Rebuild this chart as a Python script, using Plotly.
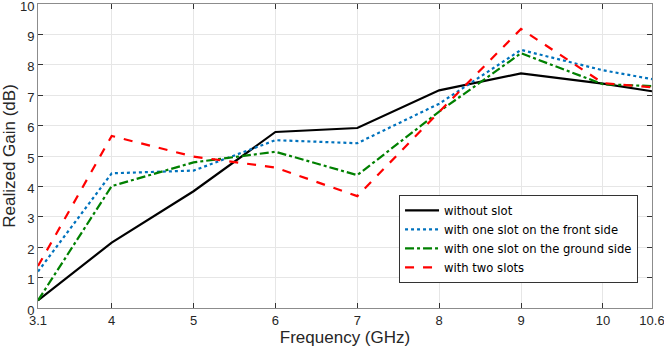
import plotly.graph_objects as go

freq = [3.1, 4, 5, 6, 7, 8, 9, 10, 10.6]
without_slot = [0.25, 2.15, 3.84, 5.79, 5.92, 7.16, 7.72, 7.38, 7.13]
front_slot = [1.2, 4.43, 4.52, 5.52, 5.42, 6.72, 8.49, 7.82, 7.53]
ground_slot = [0.25, 4.01, 4.79, 5.14, 4.37, 6.46, 8.38, 7.36, 7.30]
two_slots = [1.38, 5.66, 4.98, 4.62, 3.68, 6.45, 9.18, 7.40, 7.26]

x_ticks = [3.1, 4, 5, 6, 7, 8, 9, 10, 10.6]
x_ticklabels = ["3.1", "4", "5", "6", "7", "8", "9", "10", "10.6"]

font = "Liberation Sans, Arial, sans-serif"

fig = go.Figure()
series = [
    ("without slot", without_slot, "#000000", "solid"),
    ("with one slot on the front side", front_slot, "#0072BD", "dot"),
    ("with one slot on the ground side", ground_slot, "#008000", "dashdot"),
    ("with two slots", two_slots, "#FF0000", "dash"),
]
for name, ys, color, dash in series:
    fig.add_trace(go.Scatter(x=freq, y=ys, mode="lines", name=name,
                             line=dict(color=color, width=2.2, dash=dash)))

fig.update_layout(
    width=664, height=351,
    margin=dict(l=38, r=12, t=4, b=43),
    paper_bgcolor="white", plot_bgcolor="white",
    font=dict(family=font, size=13, color="#262626"),
    showlegend=True,
    legend=dict(x=0.588, y=0.372, xanchor="left", yanchor="top",
                bgcolor="white", bordercolor="#333333", borderwidth=1,
                font=dict(family="DejaVu Sans, sans-serif", size=11.6, color="#000000"),
                tracegroupgap=0, itemwidth=34),
    xaxis=dict(range=[3.1, 10.6], tickvals=x_ticks, ticktext=x_ticklabels,
               showgrid=True, gridcolor="#E6E6E6", gridwidth=1,
               showline=True, linecolor="#8C8C8C", linewidth=1, mirror="ticks",
               ticks="inside", ticklen=5, tickcolor="#333333",
               zeroline=False, automargin=False, ticklabeloverflow="allow",
               title=dict(text="Frequency (GHz)", font=dict(size=17, color="#262626"), standoff=4)),
    yaxis=dict(range=[0, 10], tickvals=list(range(0, 11)),
               showgrid=True, gridcolor="#E6E6E6", gridwidth=1,
               showline=True, linecolor="#8C8C8C", linewidth=1, mirror="ticks",
               ticks="inside", ticklen=5, tickcolor="#333333",
               zeroline=False, automargin=False, ticklabeloverflow="allow",
               ticklabelshift=2,
               title=dict(text="Realized Gain (dB)", font=dict(size=17, color="#262626"), standoff=6)),
)

fig.write_html("out.html")
